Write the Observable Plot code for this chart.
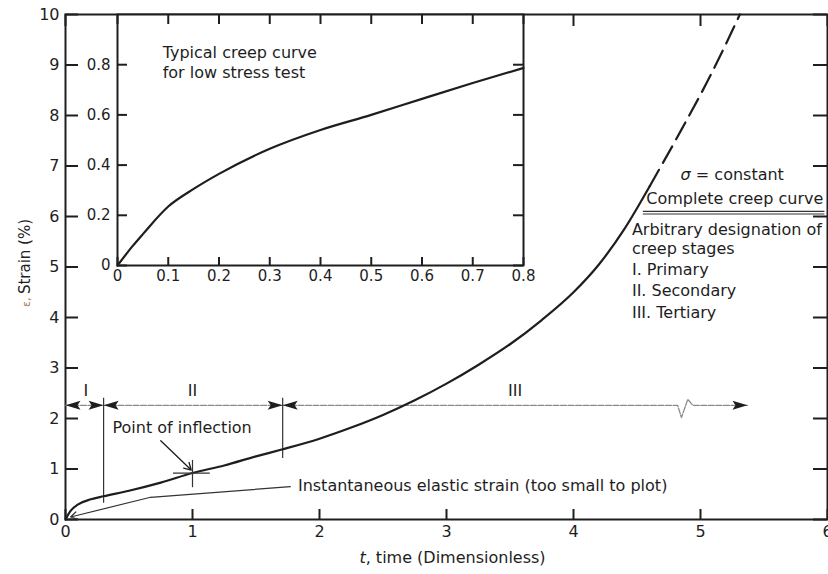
<!DOCTYPE html>
<html>
<head>
<meta charset="utf-8">
<script src="https://cdn.jsdelivr.net/npm/d3@7"></script>
<script src="https://cdn.jsdelivr.net/npm/@observablehq/plot@0.6"></script>
<style>
  body { margin: 0; background: #fff; }
  #chart { position: relative; width: 828px; height: 574px; font-family: "DejaVu Sans", sans-serif; }
  #chart svg { position: absolute; }
</style>
</head>
<body>
<div id="chart"></div>
<script>
// Complete creep curve: dimensionless time vs strain (%)
const creepT = [0, 0.04, 0.1, 0.2, 0.3, 0.5, 0.75, 1.0, 1.25, 1.5, 1.71, 2.0, 2.25, 2.5, 2.75, 3.0, 3.25, 3.5, 3.75, 4.0, 4.2, 4.4, 4.6];
const creepS = [0, 0.17, 0.3, 0.4, 0.46, 0.57, 0.73, 0.92, 1.07, 1.25, 1.39, 1.6, 1.82, 2.07, 2.36, 2.69, 3.06, 3.47, 3.95, 4.5, 5.05, 5.75, 6.6];
// extrapolated (dashed) end of the tertiary stage
const creepDashT = [4.6, 4.85, 5.08, 5.31];
const creepDashS = [6.6, 7.72, 8.8, 10.0];

// Inset: typical creep curve for a low stress test
const lowT = [0, 0.03, 0.05, 0.1, 0.15, 0.2, 0.3, 0.4, 0.5, 0.6, 0.7, 0.8];
const lowS = [0, 0.078, 0.125, 0.235, 0.305, 0.365, 0.465, 0.54, 0.6, 0.664, 0.727, 0.787];

// Tick values
const xTicks = [0, 1, 2, 3, 4, 5, 6];
const yTicks = [0, 1, 2, 3, 4, 5, 6, 7, 8, 9, 10];
const insetXTicks = [0, 0.1, 0.2, 0.3, 0.4, 0.5, 0.6, 0.7, 0.8];
const insetYTicks = [0, 0.2, 0.4, 0.6, 0.8];

// Creep stage designation
const stageNames = ["I", "II", "III"];
const stageBounds = [0, 0.3, 1.71, 5.37];
const stageLevel = 2.26;
const stageLabelT = [0.16, 1.0, 3.54];
const stageLabelS = 2.55;
const breakT = [4.82, 4.85, 4.90, 4.94];
const breakS = [2.26, 2.02, 2.38, 2.26];
const boundaryT = [0.3, 1.71];
const boundaryTop = 2.40;
const boundaryBottom = [0.32, 1.21];

// Point of inflection
const inflectionT = 1.0;
const inflectionS = 0.92;
const inflectionLabel = {t: 0.37, s: 1.82, text: "Point of inflection"};
const inflectionArrow = {t1: 0.75, s1: 1.56, t2: 0.99, s2: 0.98};

// Instantaneous elastic strain leader
const elasticLeaderT = [1.77, 0.67];
const elasticLeaderS = [0.65, 0.44];
const elasticTip = {t: 0.04, s: 0.05};
const elasticLabel = {t: 1.83, s: 0.67, text: "Instantaneous elastic strain (too small to plot)"};

// Notes on the right
const sigmaNote = {t: 5.25, s: 6.83, text: "σ = constant"};
const curveNote = {t: 5.27, s: 6.34, text: "Complete creep curve"};
const ruleLevels = [6.10, 6.05];
const ruleSpan = [4.55, 5.98];
const stageNotes = ["Arbitrary designation of", "creep stages", "I. Primary", "II. Secondary", "III. Tertiary"];
const stageNotesS = [5.74, 5.35, 4.95, 4.53, 4.10];
const stageNotesT = 4.46;

const insetNotes = ["Typical creep curve", "for low stress test"];
const insetNotesS = [0.849, 0.769];
const insetNotesT = 0.089;

const xTitle = "t, time (Dimensionless)";
const yTitle = "ε, Strain (%)";

const ink = "#1e1e1e";

// Filled arrowhead pointing along +x, tip at the origin
const headSymbol = {
  draw(ctx) {
    ctx.moveTo(0, 0);
    ctx.lineTo(-15, -4.5);
    ctx.lineTo(-12, 0);
    ctx.lineTo(-15, 4.5);
    ctx.closePath();
  }
};

const creep = creepT.map((t, i) => ({t, s: creepS[i]}));
const creepDash = creepDashT.map((t, i) => ({t, s: creepDashS[i]}));
const low = lowT.map((t, i) => ({t, s: lowS[i]}));

const stageLine = [
  {t: stageBounds[0], s: stageLevel},
  ...breakT.map((t, i) => ({t, s: breakS[i]})),
  {t: stageBounds[3], s: stageLevel}
];
const heads = [];
for (let i = 0; i < stageNames.length; i++) {
  heads.push({t: stageBounds[i], dir: 180});
  heads.push({t: stageBounds[i + 1], dir: 0});
}
const stageLabels = stageNames.map((n, i) => ({t: stageLabelT[i], s: stageLabelS, text: n}));
const boundaries = boundaryT.map((t, i) => ({t, s1: boundaryTop, s2: boundaryBottom[i]}));
const elasticLeader = elasticLeaderT.map((t, i) => ({t, s: elasticLeaderS[i]}));
const notes = stageNotes.map((text, i) => ({t: stageNotesT, s: stageNotesS[i], text}));
const insetText = insetNotes.map((text, i) => ({t: insetNotesT, s: insetNotesS[i], text}));

const W = 828, H = 574;
const mL = 65, mR = 1, mT = 14, mB = 55;
const innerW = W - mL - mR, innerH = H - mT - mB;

const main = Plot.plot({
  width: W, height: H,
  marginLeft: mL, marginRight: mR, marginTop: mT, marginBottom: mB,
  x: {domain: [0, 6]},
  y: {domain: [0, 10]},
  style: {fontFamily: "DejaVu Sans, sans-serif", fontSize: "16px", color: ink, background: "transparent"},
  marks: [
    Plot.frame({stroke: ink, strokeWidth: 2}),
    // inward ticks on all four sides
    Plot.tickY(yTicks, {y: d => d, insetRight: innerW - 13, stroke: ink, strokeWidth: 2}),
    Plot.tickY(yTicks, {y: d => d, insetLeft: innerW - 14, stroke: ink, strokeWidth: 2}),
    Plot.tickX(xTicks, {x: d => d, insetTop: innerH - 10, stroke: ink, strokeWidth: 2}),
    Plot.tickX(xTicks, {x: d => d, insetBottom: innerH - 12, stroke: ink, strokeWidth: 2}),
    Plot.axisY({ticks: yTicks, tickSize: 0, tickPadding: 6, label: null, tickFormat: d => `${d}`, fill: ink}),
    Plot.axisX({ticks: xTicks, tickSize: 0, tickPadding: 6, label: null, tickFormat: d => `${d}`, fill: ink}),
    Plot.text([xTitle], {frameAnchor: "bottom", dx: 6, dy: 43, fill: ink, fontSize: 16}),
    Plot.text([yTitle], {frameAnchor: "left", textAnchor: "middle", dx: -40, dy: -4, rotate: -90, fill: ink, fontSize: 15}),

    // stage designation line with break and arrowheads
    Plot.line(stageLine, {x: "t", y: "s", stroke: "#8a8a8a", strokeWidth: 1.3, strokeDasharray: "6,1.5"}),
    Plot.dot(heads, {x: "t", y: () => stageLevel, symbol: headSymbol, rotate: "dir", fill: ink, stroke: "none"}),
    Plot.ruleX(boundaries, {x: "t", y1: "s1", y2: "s2", stroke: "#333", strokeWidth: 1.2}),
    Plot.text(stageLabels, {x: "t", y: "s", text: "text", fill: ink, fontSize: 16}),

    // creep curves
    Plot.line(creep, {x: "t", y: "s", curve: "monotone-x", stroke: ink, strokeWidth: 2.2}),
    Plot.line(creepDash, {x: "t", y: "s", curve: "monotone-x", stroke: ink, strokeWidth: 2.2, strokeDasharray: "19,8"}),

    // point of inflection
    Plot.ruleY([inflectionS], {x1: inflectionT - 0.15, x2: inflectionT + 0.14, stroke: "#333", strokeWidth: 1.2}),
    Plot.ruleX([inflectionT], {y1: inflectionS - 0.29, y2: inflectionS + 0.25, stroke: "#333", strokeWidth: 1.2}),
    Plot.arrow([inflectionArrow], {x1: "t1", y1: "s1", x2: "t2", y2: "s2", stroke: ink, strokeWidth: 1.3, headLength: 9}),
    Plot.text([inflectionLabel], {x: "t", y: "s", text: "text", textAnchor: "start", fill: ink, fontSize: 16}),

    // instantaneous elastic strain leader
    Plot.line(elasticLeader, {x: "t", y: "s", stroke: "#333", strokeWidth: 1.2}),
    Plot.arrow([{t1: elasticLeaderT[1], s1: elasticLeaderS[1], t2: elasticTip.t, s2: elasticTip.s}],
      {x1: "t1", y1: "s1", x2: "t2", y2: "s2", stroke: "#333", strokeWidth: 1.2, headLength: 9}),
    Plot.text([elasticLabel], {x: "t", y: "s", text: "text", textAnchor: "start", fill: ink, fontSize: 16}),

    // notes on the right
    Plot.text([sigmaNote, curveNote], {x: "t", y: "s", text: "text", fill: ink, fontSize: 16}),
    Plot.ruleY(ruleLevels, {y: d => d, x1: ruleSpan[0], x2: ruleSpan[1], stroke: "#333", strokeWidth: 1.2}),
    Plot.text(notes, {x: "t", y: "s", text: "text", textAnchor: "start", fill: ink, fontSize: 16})
  ]
});

// Inset chart laid over the upper-left part of the main frame
const iL = 40, iR = 10, iT = 4, iB = 26;
const iInnerW = 406, iInnerH = 251;
const inset = Plot.plot({
  width: iL + iInnerW + iR, height: iT + iInnerH + iB,
  marginLeft: iL, marginRight: iR, marginTop: iT, marginBottom: iB,
  x: {domain: [0, 0.8]},
  y: {domain: [0, 1]},
  style: {fontFamily: "DejaVu Sans, sans-serif", fontSize: "15px", color: ink, background: "transparent", overflow: "visible"},
  marks: [
    Plot.frame({fill: "white", stroke: ink, strokeWidth: 2}),
    Plot.tickY(insetYTicks, {y: d => d, insetRight: iInnerW - 10, stroke: ink, strokeWidth: 2}),
    Plot.tickY(insetYTicks, {y: d => d, insetLeft: iInnerW - 10, stroke: ink, strokeWidth: 2}),
    Plot.tickX(insetXTicks, {x: d => d, insetTop: iInnerH - 8, stroke: ink, strokeWidth: 2}),
    Plot.tickX(insetXTicks, {x: d => d, insetBottom: iInnerH - 10, stroke: ink, strokeWidth: 2}),
    Plot.axisY({ticks: insetYTicks, tickSize: 0, tickPadding: 7, label: null, tickFormat: d => `${d}`, fill: ink}),
    Plot.axisX({ticks: insetXTicks, tickSize: 0, tickPadding: 5, label: null, tickFormat: d => `${d}`, fill: ink}),
    Plot.line(low, {x: "t", y: "s", curve: "monotone-x", stroke: ink, strokeWidth: 2.2}),
    Plot.text(insetText, {x: "t", y: "s", text: "text", textAnchor: "start", fill: ink, fontSize: 16})
  ]
});

const chart = document.getElementById("chart");
main.style.left = "0px";
main.style.top = "0px";
inset.style.left = (117 - iL) + "px";
inset.style.top = (14 - iT) + "px";
chart.append(main, inset);

// Rich text: italic symbols and the small coloured strain symbol
function richText(svg, content, parts) {
  d3.select(svg).selectAll("text")
    .filter(function () { return this.textContent === content; })
    .each(function () {
      const el = d3.select(this);
      el.text(null);
      for (const p of parts) {
        const ts = el.append("tspan").text(p.text);
        if (p.italic) ts.attr("font-style", "italic");
        if (p.size) ts.attr("font-size", p.size);
        if (p.fill) ts.attr("fill", p.fill);
      }
    });
}
richText(main, xTitle, [{text: "t", italic: true}, {text: ", time (Dimensionless)"}]);
richText(main, yTitle, [{text: "ε, ", size: 11, fill: "#a57c5c"}, {text: "Strain (%)"}]);
richText(main, sigmaNote.text, [{text: "σ", italic: true}, {text: " = constant"}]);
</script>
</body>
</html>
